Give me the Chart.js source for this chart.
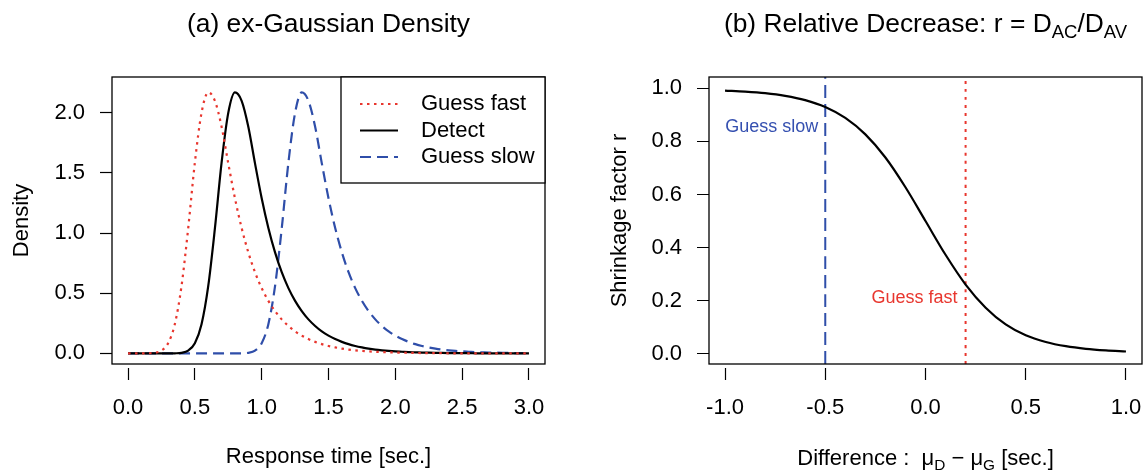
<!DOCTYPE html>
<html>
<head>
<meta charset="utf-8">
<script src="https://cdn.jsdelivr.net/npm/chart.js@4.4.0/dist/chart.umd.min.js"></script>
<style>
  body { margin: 0; background: #fff; }
  #wrap { position: relative; width: 1143px; height: 471px; }
  canvas { position: absolute; top: 0; }
  #left { left: 0; }
  #right { left: 571px; }
</style>
</head>
<body>
<div id="wrap">
  <canvas id="left" width="571" height="471"></canvas>
  <canvas id="right" width="572" height="471"></canvas>
</div>
<script>
// ---- panel (a): densities, every 0.05 sec
const timeGrid = [
  0.00, 0.05, 0.10, 0.15, 0.20, 0.25, 0.30, 0.35, 0.40, 0.45,
  0.50, 0.55, 0.60, 0.65, 0.70, 0.75, 0.80, 0.85, 0.90, 0.95,
  1.00, 1.05, 1.10, 1.15, 1.20, 1.25, 1.30, 1.35, 1.40, 1.45,
  1.50, 1.55, 1.60, 1.65, 1.70, 1.75, 1.80, 1.85, 1.90, 1.95,
  2.00, 2.05, 2.10, 2.15, 2.20, 2.25, 2.30, 2.35, 2.40, 2.45,
  2.50, 2.55, 2.60, 2.65, 2.70, 2.75, 2.80, 2.85, 2.90, 2.95, 3.00
];
const guessFast = [
  0, 0, 0, 0.001, 0.005, 0.024, 0.085, 0.243, 0.559, 1.039,
  1.586, 2.000, 2.170, 2.100, 1.885, 1.580, 1.290, 1.043, 0.840, 0.675,
  0.543, 0.437, 0.352, 0.283, 0.228, 0.183, 0.148, 0.119, 0.096, 0.077,
  0.062, 0.050, 0.040, 0.032, 0.026, 0.021, 0.017, 0.014, 0.011, 0.009,
  0.007, 0.006, 0.005, 0.004, 0.003, 0.002, 0.002, 0.002, 0.001, 0.001,
  0.001, 0.001, 0.001, 0, 0, 0, 0, 0, 0, 0, 0
];
const detect = [
  0, 0, 0, 0, 0, 0, 0, 0.001, 0.005, 0.024,
  0.085, 0.243, 0.559, 1.039, 1.586, 2.000, 2.170, 2.100, 1.885, 1.580,
  1.290, 1.043, 0.840, 0.675, 0.543, 0.437, 0.352, 0.283, 0.228, 0.183,
  0.148, 0.119, 0.096, 0.077, 0.062, 0.050, 0.040, 0.032, 0.026, 0.021,
  0.017, 0.014, 0.011, 0.009, 0.007, 0.006, 0.005, 0.004, 0.003, 0.002,
  0.002, 0.002, 0.001, 0.001, 0.001, 0.001, 0.001, 0, 0, 0, 0
];
const guessSlow = [
  0, 0, 0, 0, 0, 0, 0, 0, 0, 0,
  0, 0, 0, 0, 0, 0, 0, 0.001, 0.005, 0.024,
  0.085, 0.243, 0.559, 1.039, 1.586, 2.000, 2.170, 2.100, 1.885, 1.580,
  1.290, 1.043, 0.840, 0.675, 0.543, 0.437, 0.352, 0.283, 0.228, 0.183,
  0.148, 0.119, 0.096, 0.077, 0.062, 0.050, 0.040, 0.032, 0.026, 0.021,
  0.017, 0.014, 0.011, 0.009, 0.007, 0.006, 0.005, 0.004, 0.003, 0.002, 0.002
];
const timeTicks = [0, 0.5, 1, 1.5, 2, 2.5, 3];
const densityTicks = [0, 0.5, 1, 1.5, 2];
const timeRange = [-0.12, 3.12];
const densityRange = [-0.088, 2.298];

// ---- panel (b): shrinkage factor vs. mean difference
const diffGrid = [
  -1.0, -0.9, -0.8, -0.7, -0.6, -0.5, -0.4, -0.3, -0.2, -0.1,
  0.0, 0.1, 0.2, 0.3, 0.4, 0.5, 0.6, 0.7, 0.8, 0.9, 1.0
];
const shrinkage = [
  0.991, 0.987, 0.981, 0.971, 0.955, 0.929, 0.888, 0.826, 0.739, 0.627,
  0.500, 0.373, 0.261, 0.174, 0.111, 0.070, 0.045, 0.029, 0.019, 0.013, 0.009
];
const diffTicks = [-1, -0.5, 0, 0.5, 1];
const shrinkTicks = [0, 0.2, 0.4, 0.6, 0.8, 1.0];
const diffRange = [-1.08, 1.08];
const shrinkRange = [-0.038, 1.042];
const guessSlowDiff = -0.5;
const guessFastDiff = 0.2;

const RED = '#E8362E';
const BLUE = '#2F4EA9';
const FONT = '"Liberation Sans", Arial, Helvetica, sans-serif';

Chart.defaults.font.family = FONT;
Chart.defaults.font.size = 22;
Chart.defaults.color = '#000';

const pts = (xs, ys) => ys.map((y, i) => ({ x: xs[i], y: y }));

// draws a string made of pieces (for subscripts), centred at cx
function drawRich(ctx, parts, cx, y) {
  let total = 0;
  parts.forEach(p => {
    ctx.font = p.size + 'px ' + FONT;
    p.w = ctx.measureText(p.t).width;
    total += p.w;
  });
  let x = cx - total / 2;
  ctx.textAlign = 'left';
  ctx.textBaseline = 'alphabetic';
  parts.forEach(p => {
    ctx.font = p.size + 'px ' + FONT;
    ctx.fillText(p.t, x, y + (p.dy || 0));
    x += p.w;
  });
}

// plot box + texts that Chart.js can't set with subscripts
const frame = {
  id: 'frame',
  afterDatasetsDraw(chart, args, opts) {
    const { ctx, chartArea: a } = chart;
    ctx.save();
    ctx.strokeStyle = '#000';
    ctx.lineWidth = 1.3;
    ctx.strokeRect(a.left, a.top, a.right - a.left, a.bottom - a.top);
    ctx.fillStyle = '#000';
    const cx = (a.left + a.right) / 2;
    if (opts.title) drawRich(ctx, opts.title, cx, 32);
    if (opts.xTitle) drawRich(ctx, opts.xTitle, cx, 465);
    ctx.restore();
  }
};

// R style legend in the top right corner of panel (a)
const boxLegend = {
  id: 'boxLegend',
  afterDatasetsDraw(chart) {
    const { ctx, chartArea: a } = chart;
    const w = 204, h = 106;
    const x0 = a.right - w, y0 = a.top;
    ctx.save();
    ctx.fillStyle = '#fff';
    ctx.fillRect(x0, y0, w, h);
    ctx.strokeStyle = '#000';
    ctx.lineWidth = 1.3;
    ctx.strokeRect(x0, y0, w, h);
    ctx.font = '22px ' + FONT;
    ctx.textBaseline = 'middle';
    ctx.textAlign = 'left';
    chart.data.datasets.forEach((ds, i) => {
      const y = y0 + 27 + i * 26.5;
      ctx.strokeStyle = ds.borderColor;
      ctx.lineWidth = ds.borderWidth;
      ctx.setLineDash(ds.borderDash || []);
      ctx.beginPath();
      ctx.moveTo(x0 + 19, y);
      ctx.lineTo(x0 + 57, y);
      ctx.stroke();
      ctx.setLineDash([]);
      ctx.fillStyle = '#000';
      ctx.fillText(ds.label, x0 + 80, y);
    });
    ctx.restore();
  }
};

// labels next to the vertical lines in panel (b)
const lineLabels = {
  id: 'lineLabels',
  afterDatasetsDraw(chart) {
    const { ctx, scales: { x, y } } = chart;
    ctx.save();
    ctx.font = '18px ' + FONT;
    ctx.textAlign = 'right';
    ctx.textBaseline = 'middle';
    ctx.fillStyle = '#3550B0';
    ctx.fillText('Guess slow', x.getPixelForValue(guessSlowDiff) - 7, y.getPixelForValue(0.855));
    ctx.fillStyle = RED;
    ctx.fillText('Guess fast', x.getPixelForValue(guessFastDiff) - 8, y.getPixelForValue(0.21));
    ctx.restore();
  }
};

const fmt = v => Number(v).toFixed(1);

function axis(range, ticks, extra) {
  return Object.assign({
    type: 'linear',
    min: range[0],
    max: range[1],
    border: { display: false },
    afterBuildTicks: s => { s.ticks = ticks.map(v => ({ value: v })); },
    ticks: { callback: fmt, autoSkip: false, maxRotation: 0 }
  }, extra);
}

// fixed x-axis band, no extra room asked for the end labels
const fixX = s => { s.height = 107; s.paddingLeft = 0; s.paddingRight = 0; };

const lineDefaults = { pointRadius: 0, fill: false, cubicInterpolationMode: 'monotone', borderWidth: 2.2 };

new Chart(document.getElementById('left'), {
  type: 'line',
  data: {
    datasets: [
      Object.assign({ label: 'Guess fast', data: pts(timeGrid, guessFast), borderColor: RED, borderDash: [2.5, 4.5] }, lineDefaults),
      Object.assign({ label: 'Detect', data: pts(timeGrid, detect), borderColor: '#000' }, lineDefaults),
      Object.assign({ label: 'Guess slow', data: pts(timeGrid, guessSlow), borderColor: BLUE, borderDash: [11, 6] }, lineDefaults)
    ]
  },
  options: {
    responsive: false,
    animation: false,
    devicePixelRatio: 1,
    layout: { padding: { top: 77, right: 26, left: 0, bottom: 0 } },
    plugins: {
      legend: { display: false },
      tooltip: { enabled: false },
      frame: {
        title: [{ t: '(a) ex-Gaussian Density', size: 26.4 }]
      }
    },
    scales: {
      x: axis(timeRange, timeTicks, {
        afterFit: fixX,
        grid: { drawOnChartArea: false, tickLength: 16, tickBorderDash: [0, 4, 12, 40], tickColor: '#000', tickWidth: 1.2 },
        ticks: { callback: fmt, autoSkip: false, maxRotation: 0, padding: 15 },
        title: { display: true, text: 'Response time [sec.]', padding: { top: 0, bottom: 1 } }
      }),
      y: axis(densityRange, densityTicks, {
        afterFit: s => { s.width = 112; },
        grid: { drawOnChartArea: false, tickLength: 12, tickColor: '#000', tickWidth: 1.2 },
        ticks: { callback: fmt, autoSkip: false, padding: 15 },
        title: { display: true, text: 'Density', padding: { top: 9, bottom: 0 } }
      })
    }
  },
  plugins: [frame, boxLegend]
});

new Chart(document.getElementById('right'), {
  type: 'line',
  data: {
    datasets: [
      Object.assign({ label: 'r', data: pts(diffGrid, shrinkage), borderColor: '#000' }, lineDefaults),
      Object.assign({}, lineDefaults, {
        label: 'Guess slow',
        data: [{ x: guessSlowDiff, y: shrinkRange[0] }, { x: guessSlowDiff, y: shrinkRange[1] }],
        borderColor: BLUE, borderDash: [13, 6], borderWidth: 2
      }),
      Object.assign({}, lineDefaults, {
        label: 'Guess fast',
        data: [{ x: guessFastDiff, y: shrinkRange[0] }, { x: guessFastDiff, y: shrinkRange[1] }],
        borderColor: RED, borderDash: [3, 5], borderWidth: 2
      })
    ]
  },
  options: {
    responsive: false,
    animation: false,
    devicePixelRatio: 1,
    layout: { padding: { top: 77, right: 1, left: 0, bottom: 0 } },
    plugins: {
      legend: { display: false },
      tooltip: { enabled: false },
      frame: {
        title: [
          { t: '(b) Relative Decrease: r = D', size: 26.4 },
          { t: 'AC', size: 18.5, dy: 6 },
          { t: '/D', size: 26.4 },
          { t: 'AV', size: 18.5, dy: 6 }
        ],
        xTitle: [
          { t: 'Difference :  \u03BC', size: 22 },
          { t: 'D', size: 15.4, dy: 5 },
          { t: ' \u2212 \u03BC', size: 22 },
          { t: 'G', size: 15.4, dy: 5 },
          { t: ' [sec.]', size: 22 }
        ]
      }
    },
    scales: {
      x: axis(diffRange, diffTicks, {
        afterFit: fixX,
        grid: { drawOnChartArea: false, tickLength: 16, tickBorderDash: [0, 4, 12, 40], tickColor: '#000', tickWidth: 1.2 },
        ticks: { callback: fmt, autoSkip: false, maxRotation: 0, padding: 15 }
      }),
      y: axis(shrinkRange, shrinkTicks, {
        afterFit: s => { s.width = 138; },
        grid: { drawOnChartArea: false, tickLength: 14, tickBorderDash: [0, 2, 12, 40], tickColor: '#000', tickWidth: 1.2 },
        ticks: { callback: fmt, autoSkip: false, padding: 13 },
        title: { display: true, text: 'Shrinkage factor r', padding: { top: 36, bottom: 0 } }
      })
    }
  },
  plugins: [frame, lineLabels]
});
</script>
</body>
</html>
